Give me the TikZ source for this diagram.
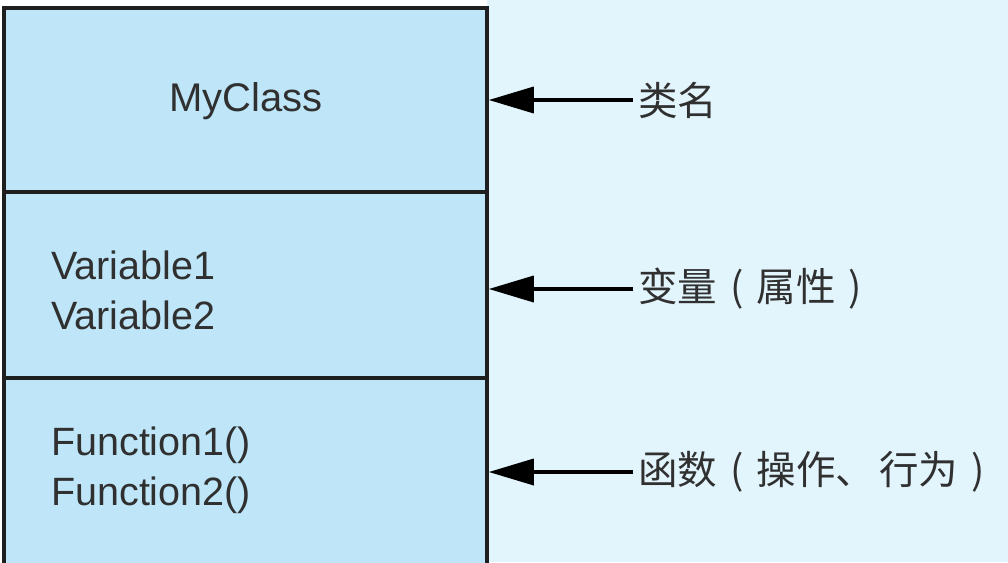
\documentclass[tikz,border=0pt]{standalone}
\usepackage{fontspec}
\setmainfont{Liberation Sans}
\newfontfamily\cjk{Noto Sans CJK SC}
\usetikzlibrary{arrows.meta,positioning}

\definecolor{boxblue}{HTML}{BEE6F8}
\definecolor{paleblue}{HTML}{E2F4FC}
\definecolor{txtgray}{HTML}{303030}

% centred bracket in a full-width cell
\newcommand{\cpar}[1]{\makebox[1em][c]{#1}}

\begin{document}
\begin{tikzpicture}[x=1pt,y=-1pt,
	part/.style={draw=black!88, line width=3.5pt, fill=boxblue, minimum width=483pt, inner sep=0pt},
	member/.style={text=txtgray, font=\fontsize{39.5}{50}\selectfont, align=left, anchor=west, inner sep=0pt},
	note/.style={text=txtgray, font=\cjk\fontsize{39.5}{46}\selectfont, anchor=west, inner sep=5pt},
	pointer/.style={draw=black, line width=3.5pt, -{Triangle[length=45pt,width=26pt]}}]
	\useasboundingbox (0,0) rectangle (1008,562);
	\fill[paleblue] (487,0) rectangle (1008,562);
	
	% class box
	\node[part, minimum height=222pt] (funcs) at (245.5,489) {};
	\node[part, minimum height=186pt] (vars) at (245.5,285) {};
	\node[part, minimum height=184pt] (name) at (245.5,100) {};
	
	\node[text=txtgray, font=\fontsize{40}{48}\selectfont] (classname) at (246,101) {MyClass};
	\node[member] (varlist) at (51,290) {Variable1\\Variable2};
	\node[member] (funclist) at (51,470) {Function1()\\Function2()};
	
	% notes
	\node[note] (n1) at (633,100) {类名};
	\node[note] (n2) at (633,289) {变量\cpar{(}属性\cpar{)}};
	\node[note] (n3) at (633,472) {函数\cpar{(}操作、\hspace{4pt}行为\cpar{)}};
	
	\draw[pointer] (n1.west) -- (n1.west -| name.east);
	\draw[pointer] (n2.west) -- (n2.west -| vars.east);
	\draw[pointer] (n3.west) -- (n3.west -| funcs.east);
\end{tikzpicture}
\end{document}
